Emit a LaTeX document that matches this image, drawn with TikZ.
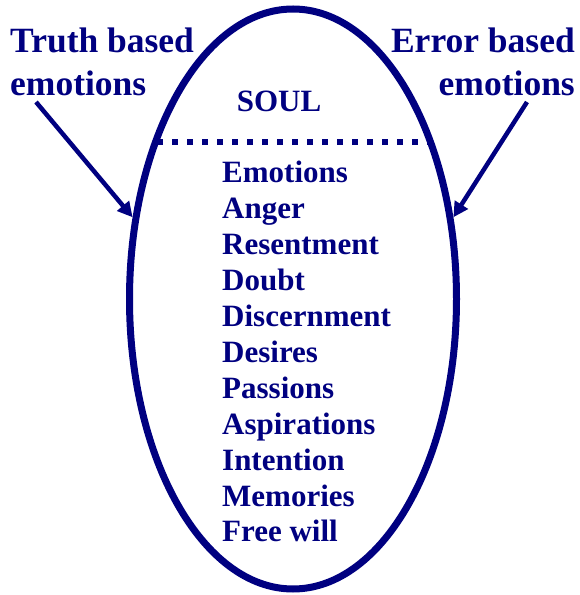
\documentclass[tikz,border=0pt]{standalone}
\usepackage{fontspec}
\setmainfont{Liberation Serif}
\usetikzlibrary{arrows.meta,shapes.geometric}
\definecolor{soulblue}{RGB}{0,0,128}

\begin{document}
\begin{tikzpicture}[
		x=1pt, y=1pt,
		arrow/.style={-{Triangle[length=15pt,width=15pt]}, line width=4.5pt, soulblue},
		title/.style={inner sep=0pt, text=soulblue, font=\fontsize{35.5}{43}\selectfont\bfseries},
		entry/.style={inner sep=0pt, anchor=base west, text=soulblue, font=\fontsize{31}{36}\selectfont\bfseries},
	]
		\useasboundingbox (0,0) rectangle (579,595);
		\node (soul) [ellipse, draw=soulblue, line width=7pt, inner sep=0pt, minimum width=327pt, minimum height=580pt] at (293,296) {};
		\node (head) [entry, anchor=base] at (279,483) {SOUL};
		\coordinate (divl) at (157,453);
		\coordinate (divr) at (432,453);
		\draw[soulblue, line width=6pt, dash pattern=on 5.5pt off 9.5pt] (divl) -- (divr);
		
		\foreach \txt [count=\i] in {Emotions, Anger, Resentment, Doubt, Discernment, Desires, Passions, Aspirations, Intention, Memories, Free will}
			\node (entry\i) [entry] at (222,{412-35.9*(\i-1)}) {\txt};
		
		\node (truth) [title, align=left, anchor=north west] at (10,567) {Truth based\\emotions};
		\node (error) [title, align=right, anchor=north east] at (575,567) {Error based\\emotions};
		\coordinate (tstart) at (36,493);
		\coordinate (estart) at (527,493);
		
		\draw[arrow] (tstart) -- (soul.153);
		\draw[arrow] (estart) -- (soul.27);
	\end{tikzpicture}
\end{document}
